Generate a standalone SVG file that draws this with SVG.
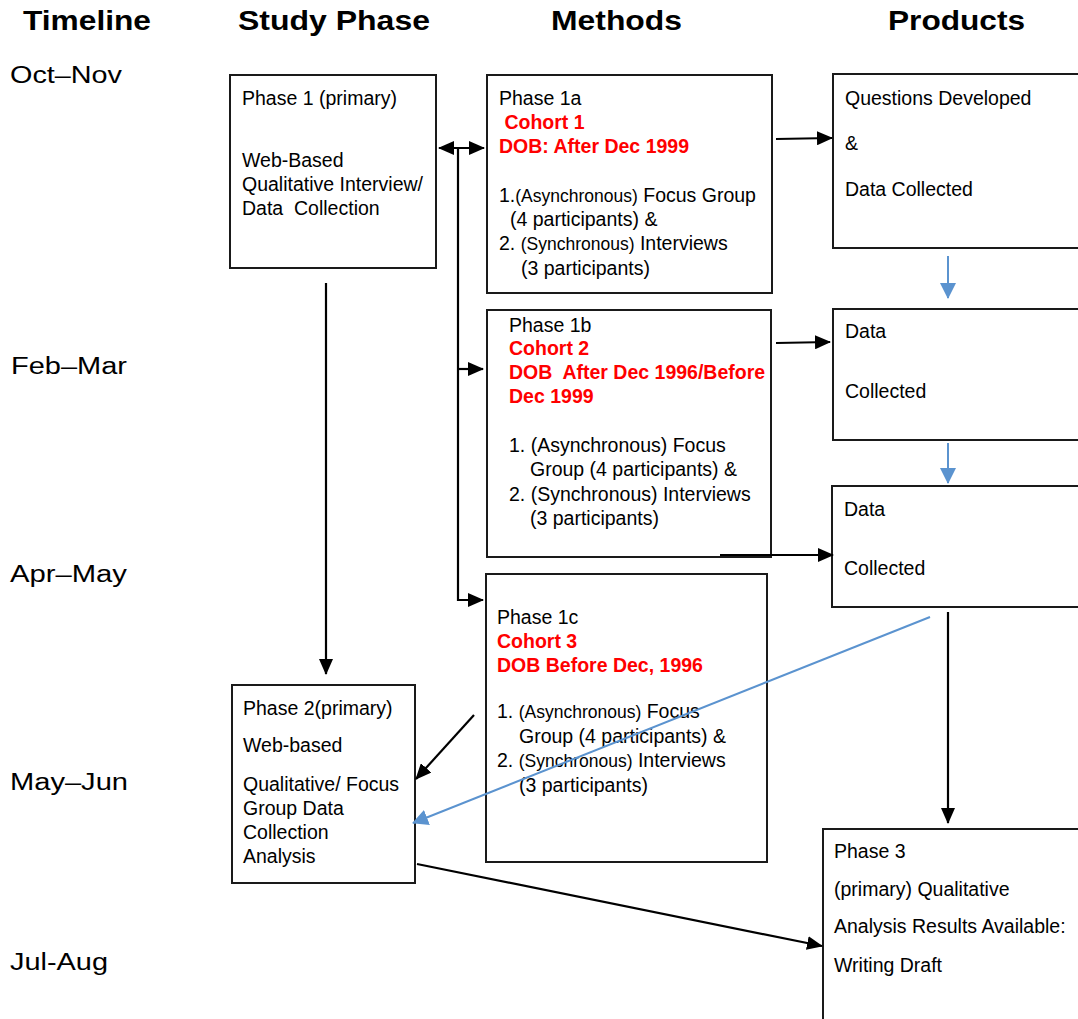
<svg xmlns="http://www.w3.org/2000/svg" width="1078" height="1019" viewBox="0 0 1078 1019">
<style>
text{font-family:"Liberation Sans",Arial,sans-serif;fill:#000;white-space:pre}
.h{font-size:28px;font-weight:bold}
.t{font-size:23px}
.b{font-size:19.5px}
.s{font-size:17.5px}
.r{font-size:19.5px;font-weight:bold;fill:#ff0000}
.box{fill:#fff;stroke:#1a1a1a;stroke-width:2}
.k{stroke:#000;stroke-width:2.2;fill:none}
.bl{stroke:#5b93cf;stroke-width:2;fill:none}
</style>
<defs>
<marker id="ah" markerUnits="userSpaceOnUse" markerWidth="16" markerHeight="14" refX="15" refY="7" orient="auto-start-reverse" viewBox="0 0 16 14">
<path d="M0,0 L16,7 L0,14 Z" fill="#000"/>
</marker>
<marker id="ab" markerUnits="userSpaceOnUse" markerWidth="16" markerHeight="16" refX="15" refY="8" orient="auto" viewBox="0 0 16 16">
<path d="M0,0 L16,8 L0,16 Z" fill="#5b93cf"/>
</marker>
</defs>

<g id="headers">
<text class="h" x="23" y="30" textLength="128" lengthAdjust="spacingAndGlyphs">Timeline</text>
<text class="h" x="238" y="30" textLength="192" lengthAdjust="spacingAndGlyphs">Study Phase</text>
<text class="h" x="551" y="30" textLength="131" lengthAdjust="spacingAndGlyphs">Methods</text>
<text class="h" x="888" y="30" textLength="137" lengthAdjust="spacingAndGlyphs">Products</text>
</g>

<g id="timeline">
<text class="t" x="10" y="83" textLength="112" lengthAdjust="spacingAndGlyphs">Oct–Nov</text>
<text class="t" x="11" y="374" textLength="116" lengthAdjust="spacingAndGlyphs">Feb–Mar</text>
<text class="t" x="10" y="582" textLength="117" lengthAdjust="spacingAndGlyphs">Apr–May</text>
<text class="t" x="10" y="790" textLength="118" lengthAdjust="spacingAndGlyphs">May–Jun</text>
<text class="t" x="10" y="970" textLength="98" lengthAdjust="spacingAndGlyphs">Jul-Aug</text>
</g>

<g id="phase1">
<rect class="box" x="230" y="75" width="206" height="193"/>
<text class="b" x="242" y="105">Phase 1 (primary)</text>
<text class="b" x="242" y="167">Web-Based</text>
<text class="b" x="242" y="191">Qualitative Interview/</text>
<text class="b" x="242" y="215">Data  Collection</text>
</g>

<g id="phase1a">
<rect class="box" x="487" y="75" width="285" height="218"/>
<text class="b" x="499" y="105">Phase 1a</text>
<text class="r" x="499" y="129"> Cohort 1</text>
<text class="r" x="499" y="153">DOB: After Dec 1999</text>
<text class="b" x="499" y="202">1.<tspan class="s">(Asynchronous)</tspan> Focus Group</text>
<text class="b" x="510" y="226">(4 participants) &amp;</text>
<text class="b" x="499" y="250">2. <tspan class="s">(Synchronous)</tspan> Interviews</text>
<text class="b" x="521" y="275">(3 participants)</text>
</g>

<g id="phase1b">
<rect class="box" x="487" y="310" width="284" height="247"/>
<text class="b" x="509" y="332">Phase 1b</text>
<text class="r" x="509" y="355">Cohort 2</text>
<text class="r" x="509" y="379">DOB  After Dec 1996/Before</text>
<text class="r" x="509" y="403">Dec 1999</text>
<text class="b" x="509" y="452">1. (Asynchronous) Focus</text>
<text class="b" x="530" y="476">Group (4 participants) &amp;</text>
<text class="b" x="509" y="501">2. (Synchronous) Interviews</text>
<text class="b" x="530" y="525">(3 participants)</text>
</g>

<g id="phase1c">
<rect class="box" x="486" y="574" width="281" height="288"/>
<text class="b" x="497" y="624">Phase 1c</text>
<text class="r" x="497" y="648">Cohort 3</text>
<text class="r" x="497" y="672">DOB Before Dec, 1996</text>
<text class="b" x="497" y="718">1. <tspan class="s">(Asynchronous)</tspan> Focus</text>
<text class="b" x="519" y="743">Group (4 participants) &amp;</text>
<text class="b" x="497" y="767">2. <tspan class="s">(Synchronous)</tspan> Interviews</text>
<text class="b" x="519" y="792">(3 participants)</text>
</g>

<g id="phase2">
<rect class="box" x="232" y="685" width="183" height="198"/>
<text class="b" x="243" y="715">Phase 2(primary)</text>
<text class="b" x="243" y="752">Web-based</text>
<text class="b" x="243" y="791">Qualitative/ Focus</text>
<text class="b" x="243" y="815">Group Data</text>
<text class="b" x="243" y="839">Collection</text>
<text class="b" x="243" y="863">Analysis</text>
</g>

<g id="product1">
<rect class="box" x="833" y="74" width="260" height="174"/>
<text class="b" x="845" y="105">Questions Developed</text>
<text class="b" x="845" y="150">&amp;</text>
<text class="b" x="845" y="196">Data Collected</text>
</g>

<g id="product2">
<rect class="box" x="833" y="309" width="260" height="131"/>
<text class="b" x="845" y="338">Data</text>
<text class="b" x="845" y="398">Collected</text>
</g>

<g id="product3">
<rect class="box" x="832" y="486" width="260" height="121"/>
<text class="b" x="844" y="516">Data</text>
<text class="b" x="844" y="575">Collected</text>
</g>

<g id="phase3">
<rect class="box" x="823" y="829" width="270" height="210"/>
<text class="b" x="834" y="858">Phase 3</text>
<text class="b" x="834" y="896">(primary) Qualitative</text>
<text class="b" x="834" y="933">Analysis Results Available:</text>
<text class="b" x="834" y="972">Writing Draft</text>
</g>

<g id="connectors">
<line class="k" x1="439" y1="148" x2="484" y2="148" marker-start="url(#ah)" marker-end="url(#ah)"/>
<polyline class="k" points="458,148 458,600 483,600" marker-end="url(#ah)"/>
<line class="k" x1="458" y1="369" x2="483" y2="369" marker-end="url(#ah)"/>
<line class="k" x1="326" y1="283" x2="326" y2="674" marker-end="url(#ah)"/>
<line class="k" x1="776" y1="139" x2="832" y2="138" marker-end="url(#ah)"/>
<line class="k" x1="776" y1="343" x2="830" y2="342" marker-end="url(#ah)"/>
<line class="k" x1="720" y1="555" x2="833" y2="555" marker-end="url(#ah)"/>
<line class="k" x1="474" y1="715" x2="416" y2="779" marker-end="url(#ah)"/>
<line class="k" x1="948" y1="612" x2="948" y2="823" marker-end="url(#ah)"/>
<line class="k" x1="417" y1="864" x2="822" y2="946" marker-end="url(#ah)"/>
<line class="bl" x1="948" y1="256" x2="948" y2="298" marker-end="url(#ab)"/>
<line class="bl" x1="948" y1="443" x2="948" y2="483" marker-end="url(#ab)"/>
<line class="bl" x1="930" y1="617" x2="413" y2="823" marker-end="url(#ab)"/>
</g>
</svg>
